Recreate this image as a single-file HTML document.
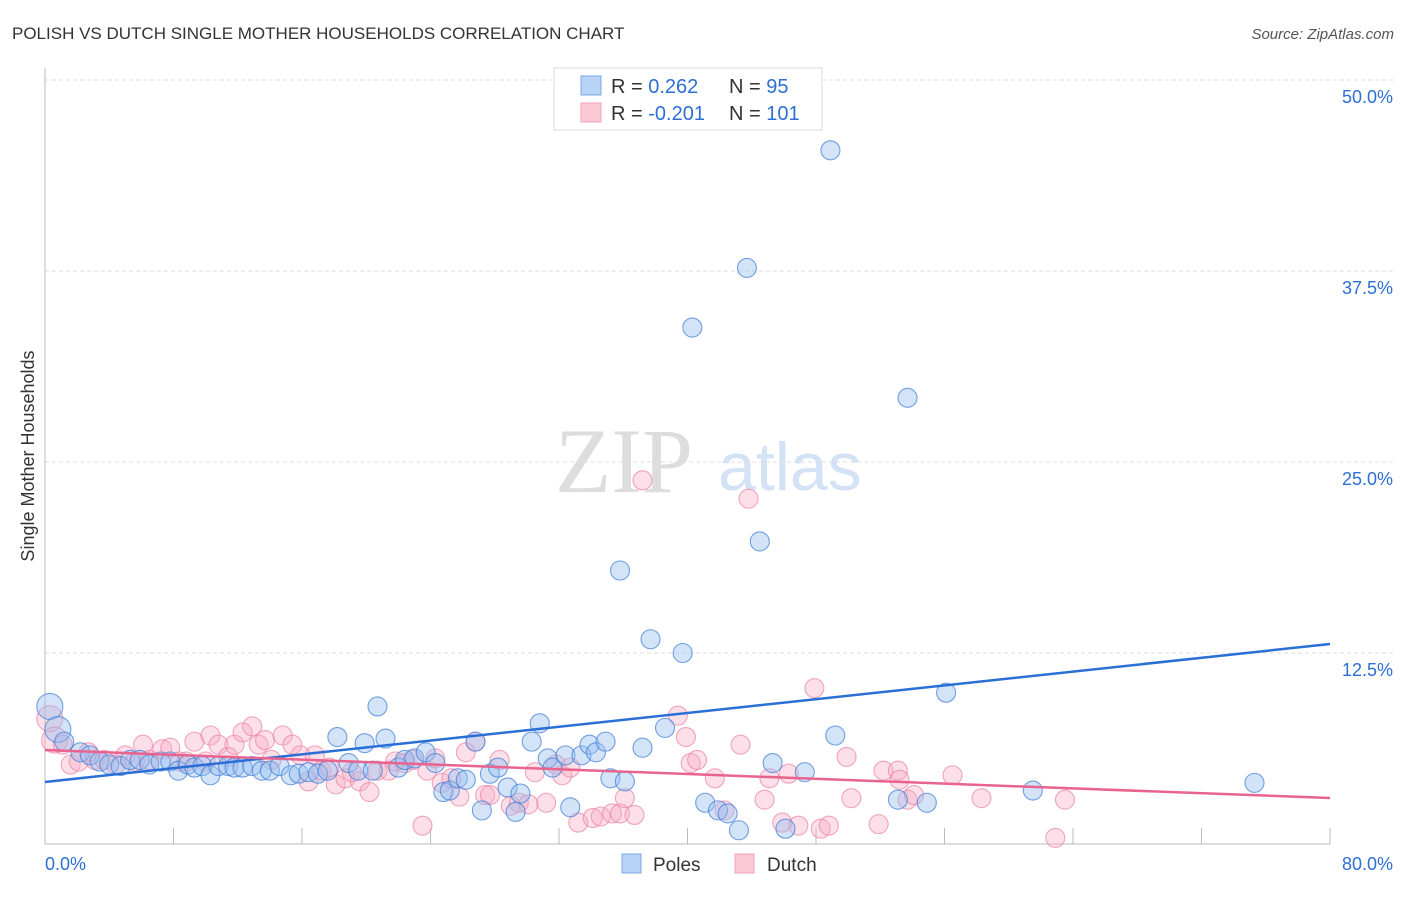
<!DOCTYPE html>
<html><head><meta charset="utf-8"><style>
body{margin:0;background:#fff;font-family:"Liberation Sans",sans-serif;}
</style></head><body>
<svg width="1406" height="892" xmlns="http://www.w3.org/2000/svg" id="chart">
<text x="12" y="39" font-size="17" fill="#333">POLISH VS DUTCH SINGLE MOTHER HOUSEHOLDS CORRELATION CHART</text>
<text x="1394" y="39" font-size="15" fill="#555" font-style="italic" text-anchor="end">Source: ZipAtlas.com</text>
<text x="555" y="492" font-size="92" fill="#ddd" font-family="Liberation Serif,serif">ZIP</text>
<text x="718" y="490" font-size="68" fill="#d3e2f5">atlas</text>
<text transform="translate(34,456) rotate(-90)" font-size="18" fill="#333" text-anchor="middle">Single Mother Households</text>
<g id="grid"></g><g id="pts"></g><g id="lines"></g>
<g>
<rect x="554" y="68" width="268" height="62" fill="#fff" stroke="#ddd"/>
<rect x="581" y="76" width="20" height="19" fill="#b8d3f5" stroke="#7aa8e6"/>
<rect x="581" y="103" width="20" height="19" fill="#fbc8d6" stroke="#f0a0b8"/>
<text x="611" y="93" font-size="20" fill="#333">R =  <tspan fill="#2d6fd6">0.262</tspan></text>
<text x="729" y="93" font-size="20" fill="#333">N =  <tspan fill="#2d6fd6">95</tspan></text>
<text x="611" y="120" font-size="20" fill="#333">R = <tspan fill="#2d6fd6">-0.201</tspan></text>
<text x="729" y="120" font-size="20" fill="#333">N = <tspan fill="#2d6fd6">101</tspan></text>
</g>
<g>
<rect x="622" y="854" width="19" height="19" fill="#b8d3f5" stroke="#7aa8e6"/>
<text x="653" y="871" font-size="19" fill="#333">Poles</text>
<rect x="735" y="854" width="19" height="19" fill="#fbc8d6" stroke="#f0a0b8"/>
<text x="767" y="871" font-size="19" fill="#333">Dutch</text>
</g>
</svg>
<script>
const yTicks=[12.5,25,37.5,50];
const xTickVals=[0,8,16,24,32,40,48,56,64,72,80];
const xLabels=[[0,"0.0%"],[80,"80.0%"]];
const polesX=[0.3,0.8,1.2,2.2,2.8,3.4,4.0,4.7,5.3,5.9,6.5,7.2,7.8,8.3,8.9,9.3,9.8,10.3,10.8,11.4,11.8,12.3,12.9,13.5,14.0,14.6,15.3,15.8,16.4,17.0,17.6,18.2,18.9,19.5,19.9,20.4,20.7,21.2,22.0,22.4,23.0,23.7,24.3,24.8,25.2,25.7,26.2,26.8,27.2,27.7,28.2,28.8,29.3,29.6,30.3,30.8,31.3,31.6,32.4,32.7,33.4,33.9,34.3,34.9,35.2,35.8,36.1,37.2,37.7,38.6,39.7,40.3,41.1,41.9,42.5,43.2,43.7,44.5,45.3,46.1,47.3,48.9,49.2,53.1,53.7,54.9,56.1,61.5,75.3];
const polesY=[9.0,7.5,6.7,6.0,5.8,5.4,5.2,5.1,5.5,5.5,5.2,5.4,5.4,4.8,5.2,5.0,5.1,4.5,5.1,5.1,5.0,5.0,5.1,4.8,4.8,5.1,4.5,4.6,4.7,4.6,4.8,7.0,5.3,4.8,6.6,4.8,9.0,6.9,5.0,5.5,5.6,6.0,5.3,3.4,3.5,4.3,4.2,6.7,2.2,4.6,5.0,3.7,2.1,3.3,6.7,7.9,5.6,5.0,5.8,2.4,5.8,6.5,6.0,6.7,4.3,17.9,4.1,6.3,13.4,7.6,12.5,33.8,2.7,2.2,2.0,0.9,37.7,19.8,5.3,1.0,4.7,45.4,7.1,2.9,29.2,2.7,9.9,3.5,4.0];
const dutchX=[0.3,0.6,1.1,1.6,2.1,2.7,3.1,3.7,4.4,5.0,5.6,6.1,6.5,7.3,7.8,8.4,8.8,9.3,10.0,10.3,10.8,11.4,11.8,12.3,12.9,13.3,13.7,14.1,14.8,15.4,15.9,16.4,16.8,17.2,17.7,18.1,18.7,19.1,19.6,20.2,20.7,21.4,21.8,22.4,22.9,23.5,23.8,24.3,24.7,25.3,25.8,26.2,26.8,27.4,27.7,28.3,29.0,29.5,30.1,30.5,31.2,31.8,32.2,32.7,33.2,34.1,34.6,35.3,35.8,36.1,36.7,37.2,39.4,39.9,40.2,40.6,41.7,42.3,43.3,43.8,44.8,45.1,45.9,46.3,46.9,47.9,48.3,48.8,49.9,50.2,51.9,52.2,53.1,53.2,53.7,54.1,56.5,58.3,62.9,63.5];
const dutchY=[8.2,6.8,6.5,5.2,5.4,6.0,5.5,5.5,5.2,5.8,5.4,6.5,5.5,6.2,6.3,5.4,5.4,6.7,5.4,7.1,6.5,5.7,6.5,7.3,7.7,6.5,6.8,5.5,7.1,6.5,5.8,4.1,5.8,4.8,5.0,3.9,4.3,4.7,4.1,3.4,4.8,4.8,5.4,5.3,5.5,1.2,4.8,5.6,4.0,4.3,3.1,6.0,6.7,3.2,3.2,5.5,2.5,2.7,2.6,4.7,2.7,5.2,4.5,5.0,1.4,1.7,1.8,2.0,2.0,3.0,1.9,23.8,8.4,7.0,5.3,5.5,4.3,2.2,6.5,22.6,2.9,4.3,1.4,4.6,1.2,10.2,1.0,1.2,5.7,3.0,1.3,4.8,4.8,4.2,2.9,3.2,4.5,3.0,0.4,2.9];
const polesTrend=[4.06,13.09];
const dutchTrend=[6.15,3.01];
const NS="http://www.w3.org/2000/svg";
const X=v=>45+v*(1285/80), Y=v=>844-v*(764/50);
function mk(t,a,p){const e=document.createElementNS(NS,t);for(const k in a)e.setAttribute(k,a[k]);p.appendChild(e);return e;}
const grid=document.getElementById('grid');
yTicks.forEach(t=>{
 const l=mk('line',{x1:45,x2:1393,y1:Y(t),y2:Y(t),stroke:'#ddd','stroke-dasharray':'4,3'},grid);
 
 
 const tx=mk('text',{x:1393,y:Y(t)+23,'font-size':18,fill:'#2d6fd6','text-anchor':'end'},grid);tx.textContent=t.toFixed(1)+'%';
 
 
});
const ax=mk('line',{x1:45,x2:1330,y1:844,y2:844,stroke:'#bbb'},grid);


const ay=mk('line',{x1:45,x2:45,y1:68,y2:844,stroke:'#bbb'},grid);


xTickVals.forEach(v=>{const l=mk('line',{x1:X(v),x2:X(v),y1:828,y2:844,stroke:'#bbb'},grid);
 
 });
xLabels.forEach(([v,s])=>{const t=mk('text',{x:v==0?X(v):1393,y:870,'font-size':18,fill:'#2d6fd6','text-anchor':v==0?'start':'end'},grid);t.textContent=s;
 
 });
const pts=document.getElementById('pts');
function series(xs,ys,fill,stroke,name){xs.forEach((x,i)=>{const c=mk('circle',{cx:X(x),cy:Y(ys[i]),r:i<2?13:9.5,fill:fill,stroke:stroke,'stroke-width':1.1},pts);
 
 });}
series(dutchX,dutchY,'rgba(248,170,195,0.38)','rgba(235,130,165,0.7)','dutch-point');
series(polesX,polesY,'rgba(150,190,240,0.42)','rgba(70,130,215,0.75)','poles-point');
const lines=document.getElementById('lines');
const lp=mk('line',{x1:X(0),y1:Y(polesTrend[0]),x2:X(80),y2:Y(polesTrend[1]),stroke:'#2a6fd6','stroke-width':2.5},lines);


const ld=mk('line',{x1:X(0),y1:Y(dutchTrend[0]),x2:X(80),y2:Y(dutchTrend[1]),stroke:'#e8648e','stroke-width':2.5},lines);


</script>
</body></html>
